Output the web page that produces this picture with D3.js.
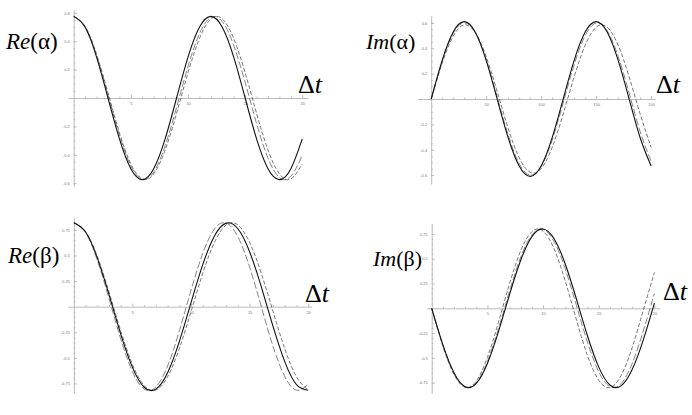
<!DOCTYPE html>
<html>
<head>
<meta charset="utf-8">
<script src="https://cdn.jsdelivr.net/npm/d3@7"></script>
<style>
  body { margin: 0; background: #fff; }
  svg { display: block; }
  .tick text { font-family: "Liberation Sans", sans-serif; fill: #777; }
</style>
</head>
<body>
<div id="chart"></div>
<script>
// Sample times
const tShort = [0, 1, 2, 3, 4, 5, 6, 7, 8, 9, 10, 11, 12, 13, 14, 15, 16, 17, 18, 19, 20]
const tLong = [0, 10, 20, 30, 40, 50, 60, 70, 80, 90, 100, 110, 120, 130, 140, 150, 160, 170, 180, 190, 200]

// Re(alpha)
const reAlphaSolid = [0.575, 0.498, 0.288, 0, -0.288, -0.498, -0.575, -0.498, -0.288, 0, 0.288, 0.498, 0.575, 0.498, 0.288, 0, -0.288, -0.498, -0.575, -0.498, -0.288]
const reAlphaDash1 = [0.575, 0.502, 0.300, 0.022, -0.262, -0.479, -0.573, -0.522, -0.337, -0.066, 0.222, 0.453, 0.568, 0.539, 0.371, 0.110, -0.180, -0.424, -0.560, -0.552, -0.404]
const reAlphaDash2 = [0.575, 0.504, 0.308, 0.036, -0.245, -0.465, -0.570, -0.535, -0.367, -0.108, 0.178, 0.419, 0.557, 0.557, 0.419, 0.178, -0.108, -0.367, -0.535, -0.570, -0.465]

// Im(alpha)
const imAlphaSolid = [0, 0.305, 0.528, 0.610, 0.528, 0.305, 0, -0.305, -0.528, -0.610, -0.528, -0.305, 0, 0.305, 0.528, 0.610, 0.528, 0.305, 0, -0.305, -0.528]
const imAlphaDash1 = [0, 0.298, 0.517, 0.600, 0.525, 0.311, 0.016, -0.284, -0.509, -0.600, -0.532, -0.324, -0.031, 0.270, 0.501, 0.599, 0.539, 0.337, 0.047, -0.256, -0.492]
const imAlphaDash2 = [0, 0.284, 0.496, 0.584, 0.525, 0.334, 0.059, -0.231, -0.463, -0.578, -0.549, -0.381, -0.118, 0.175, 0.424, 0.566, 0.566, 0.424, 0.175, -0.118, -0.381]

// Re(beta)
const reBetaSolid = [0.820, 0.729, 0.476, 0.117, -0.268, -0.593, -0.787, -0.805, -0.645, -0.341, 0.039, 0.410, 0.690, 0.816, 0.761, 0.537, 0.193, -0.193, -0.537, -0.761, -0.816]
const reBetaDash1 = [0.820, 0.723, 0.456, 0.080, -0.314, -0.634, -0.804, -0.785, -0.580, -0.238, 0.160, 0.520, 0.758, 0.816, 0.682, 0.387, 0, -0.387, -0.682, -0.816, -0.758]
const reBetaDash2 = [0.820, 0.733, 0.490, 0.142, -0.235, -0.563, -0.771, -0.814, -0.685, -0.410, -0.048, 0.325, 0.628, 0.798, 0.798, 0.628, 0.325, -0.048, -0.410, -0.685, -0.814]

// Im(beta)
const imBetaSolid = [0, -0.366, -0.650, -0.791, -0.757, -0.556, -0.232, 0.143, 0.487, 0.723, 0.800, 0.699, 0.444, 0.091, -0.282, -0.593, -0.773, -0.782, -0.618, -0.318, 0.053]
const imBetaDash1 = [0, -0.370, -0.656, -0.793, -0.751, -0.538, -0.204, 0.177, 0.518, 0.741, 0.796, 0.671, 0.394, 0.027, -0.346, -0.640, -0.790, -0.760, -0.558, -0.229, 0.151]
const imBetaDash2 = [0, -0.380, -0.668, -0.797, -0.734, -0.495, -0.138, 0.253, 0.583, 0.773, 0.778, 0.596, 0.272, -0.118, -0.480, -0.726, -0.798, -0.679, -0.397, -0.020, 0.362]

// Tick labels
const xTicksShort = [5, 10, 15, 20]
const xTicksLong = [50, 100, 150, 200]
const yTicksAlpha = [-0.6, -0.4, -0.2, 0.2, 0.4, 0.6]
const yTicksBeta = [-0.75, -0.5, -0.25, 0.25, 0.5, 0.75]

const width = 692, height = 415

let svg = d3.select('#chart')
  .append('svg')
  .attr('width', width)
  .attr('height', height)

let line = (x, y) => d3.line()
  .x(d => x(d[0]))
  .y(d => y(d[1]))
  .curve(d3.curveNatural)

let minorTicks = (major, step, lo, hi) => {
  let out = []
  for (let v = lo; v <= hi + 1e-9; v += step) {
    let r = Math.round(v * 1000) / 1000
    if (r !== 0 && !major.some(m => Math.abs(m - r) < 1e-6)) out.push(r)
  }
  return out
}

// one panel
let drawPanel = (p) => {
  let x = d3.scaleLinear().domain(p.xDomain).range(p.xRange)
  let y = d3.scaleLinear().domain(p.yDomain).range(p.yRange)
  let g = svg.append('g')

  // minor ticks
  g.append('g')
    .attr('transform', `translate(0,${y(0)})`)
    .call(d3.axisBottom(x).tickValues(minorTicks(p.xTicks, p.xMinor, 0, p.xTicks[p.xTicks.length - 1]))
      .tickSizeInner(-1.5).tickSizeOuter(0).tickFormat(''))
    .call(a => a.select('.domain').remove())
  g.append('g')
    .attr('transform', `translate(${x(0)},0)`)
    .call(d3.axisLeft(y).tickValues(minorTicks(p.yTicks, p.yMinor, p.yTicks[0], p.yTicks[p.yTicks.length - 1]))
      .tickSizeInner(-1.5).tickSizeOuter(0).tickFormat(''))
    .call(a => a.select('.domain').remove())

  // major axes
  g.append('g')
    .attr('transform', `translate(0,${y(0)})`)
    .call(d3.axisBottom(x).tickValues(p.xTicks).tickSizeInner(-3).tickSizeOuter(0).tickPadding(4))
    .call(a => a.selectAll('text').style('font-size', '4px'))
  g.append('g')
    .attr('transform', `translate(${x(0)},0)`)
    .call(d3.axisLeft(y).tickValues(p.yTicks).tickSizeInner(-3).tickSizeOuter(0).tickPadding(4)
      .tickFormat(d => String(d)))
    .call(a => a.selectAll('text').style('font-size', '4px'))
  g.selectAll('.domain, .tick line').attr('stroke', '#aaa').attr('stroke-width', 0.8)

  // curves
  let styles = [
    { dash: '7,2.5', color: '#666', w: 0.8 },
    { dash: '4,2', color: '#555', w: 0.8 },
    { dash: null, color: '#111', w: 1.1 }
  ]
  ;[p.dash1, p.dash2, p.solid].forEach((s, i) => {
    g.append('path')
      .datum(p.t.map((t, j) => [t, s[j]]))
      .attr('fill', 'none')
      .attr('stroke', styles[i].color)
      .attr('stroke-width', styles[i].w)
      .attr('stroke-dasharray', styles[i].dash)
      .attr('d', line(x, y))
  })

  // labels
  let lab = g.append('text')
    .attr('x', p.labelPos[0]).attr('y', p.labelPos[1])
    .style('font-family', '"Liberation Serif", serif')
    .style('font-size', p.labelSize + 'px')
  lab.append('tspan').style('font-style', 'italic').text(p.labelA)
  lab.append('tspan').text(p.labelB)

  let dt = g.append('text')
    .attr('x', p.dtPos[0]).attr('y', p.dtPos[1])
    .style('font-family', '"Liberation Serif", serif')
    .style('font-size', '26px')
  dt.append('tspan').text('Δ')
  dt.append('tspan').style('font-style', 'italic').text('t')
}

drawPanel({
  t: tShort, solid: reAlphaSolid, dash1: reAlphaDash1, dash2: reAlphaDash2,
  xDomain: [-0.5, 20.5], xRange: [68, 308], yDomain: [-0.62, 0.62], yRange: [186, 10],
  xTicks: xTicksShort, xMinor: 1, yTicks: yTicksAlpha, yMinor: 0.05,
  labelA: 'Re', labelB: '(α)', labelSize: 23, labelPos: [6, 49], dtPos: [298, 93]
})
drawPanel({
  t: tLong, solid: imAlphaSolid, dash1: imAlphaDash1, dash2: imAlphaDash2,
  xDomain: [-12, 203.5], xRange: [418, 655], yDomain: [-0.67, 0.657], yRange: [184, 15.7],
  xTicks: xTicksLong, xMinor: 10, yTicks: yTicksAlpha, yMinor: 0.05,
  labelA: 'Im', labelB: '(α)', labelSize: 22, labelPos: [366, 49], dtPos: [656, 93]
})
drawPanel({
  t: tShort, solid: reBetaSolid, dash1: reBetaDash1, dash2: reBetaDash2,
  xDomain: [-0.5, 20.3], xRange: [68, 311.7], yDomain: [-0.843, 0.866], yRange: [393, 218],
  xTicks: xTicksShort, xMinor: 1, yTicks: yTicksBeta, yMinor: 0.05,
  labelA: 'Re', labelB: '(β)', labelSize: 23, labelPos: [8, 263], dtPos: [305, 302]
})
drawPanel({
  t: tShort, solid: imBetaSolid, dash1: imBetaDash1, dash2: imBetaDash2,
  xDomain: [-0.45, 20.5], xRange: [426.7, 660], yDomain: [-0.857, 0.857], yRange: [393.3, 223.3],
  xTicks: xTicksShort, xMinor: 1, yTicks: yTicksBeta, yMinor: 0.05,
  labelA: 'Im', labelB: '(β)', labelSize: 22, labelPos: [373, 266], dtPos: [663, 300]
})
</script>
</body>
</html>
